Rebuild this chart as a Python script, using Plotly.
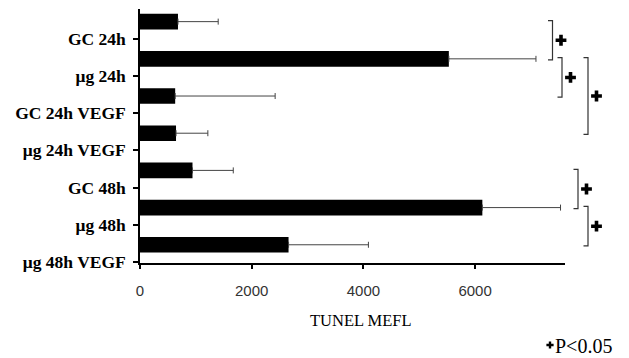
import plotly.graph_objects as go

categories = ["GC 24h", "μg 24h", "GC 24h VEGF", "μg 24h VEGF", "GC 48h", "μg 48h", "μg 48h VEGF"]
values = [680, 5530, 630, 645, 940, 6130, 2660]
errors = [720, 1560, 1790, 570, 730, 1400, 1430]
x_ticks = [0, 2000, 4000, 6000]
# significance brackets: (from category index, to category index, bracket column)
brackets = [(0, 1, 0), (1, 2, 1), (1, 3, 3), (4, 5, 2), (5, 6, 3)]

# the page body has an 8px margin, so the figure is drawn 8px in from the window corner
PAGE = 8
WIN_W, WIN_H = 629, 358
W, H = WIN_W - PAGE, WIN_H - PAGE
plot_left, plot_top, plot_w, plot_h = 140, 9, 425, 254  # in window pixels
plot_bottom = plot_top + plot_h

y_range = [6.03, -0.8]
bar_w = 0.42
bar_off = -0.67  # bars sit just above their tick label
centre_shift = bar_off + bar_w / 2


def xpx_to_paper(px):
    return (px - PAGE) / W


def ypx_to_paper(py):
    return (WIN_H - py) / H


def cat_to_ypx(v):
    return plot_top + (v - y_range[1]) / (y_range[0] - y_range[1]) * plot_h


fig = go.Figure()
fig.add_trace(go.Bar(
    y=categories, x=values, orientation="h",
    width=bar_w, offset=bar_off,
    marker=dict(color="black", line=dict(width=0)),
    error_x=dict(type="data", array=errors, arrayminus=[0] * len(errors),
                 symmetric=False, color="#444", thickness=1, width=3),
    showlegend=False,
))

col_px = [552.5, 562, 578, 588]  # window x of bracket columns
shapes = []
star_x, star_y = [], []
for a, b, c in brackets:
    x0 = xpx_to_paper(col_px[c])
    x1 = xpx_to_paper(col_px[c] - 4.5)
    ya = a + centre_shift - 0.03
    yb = b + centre_shift + 0.03
    shapes.append(dict(type="path", xref="paper", yref="y",
                       path=f"M {x1},{ya} L {x0},{ya} L {x0},{yb} L {x1},{yb}",
                       line=dict(color="#333", width=1.2)))
    star_x.append(col_px[c] + 8.5)
    star_y.append(cat_to_ypx((ya + yb) / 2))

# significance markers drawn on a full-window overlay measured in window pixels
fig.add_trace(go.Scatter(
    x=star_x, y=star_y, xaxis="x2", yaxis="y2", mode="markers",
    marker=dict(symbol="cross", size=9, color="black", line=dict(width=0)),
    showlegend=False, hoverinfo="skip",
))
fig.add_trace(go.Scatter(
    x=[550], y=[345], xaxis="x2", yaxis="y2", mode="markers",
    marker=dict(symbol="cross", size=6, color="black", line=dict(width=0)),
    showlegend=False, hoverinfo="skip",
))

annotations = [
    dict(xref="paper", yref="paper", x=xpx_to_paper(361), y=ypx_to_paper(320),
         text="TUNEL MEFL", showarrow=False, xanchor="center", yanchor="middle",
         font=dict(family="Liberation Serif", size=16.5, color="black")),
    dict(xref="paper", yref="paper", x=xpx_to_paper(554), y=ypx_to_paper(358),
         text="P<0.05", showarrow=False, xanchor="left", yanchor="bottom", borderpad=0,
         font=dict(family="Liberation Serif", size=20, color="black")),
]

fig.update_layout(
    width=W, height=H,
    margin=dict(l=0, r=0, t=0, b=0, pad=0),
    paper_bgcolor="white", plot_bgcolor="rgba(0,0,0,0)",
    shapes=shapes, annotations=annotations,
    xaxis=dict(domain=[xpx_to_paper(plot_left), xpx_to_paper(plot_left + plot_w)],
               range=[0, 7610], tickvals=x_ticks, showgrid=False, zeroline=False,
               showline=True, linecolor="black", linewidth=1.5,
               ticks="outside", ticklen=4, tickwidth=2, tickcolor="black",
               ticklabelstandoff=9, automargin=False,
               tickfont=dict(family="Liberation Sans", size=15, color="#333")),
    yaxis=dict(domain=[ypx_to_paper(plot_bottom), ypx_to_paper(plot_top)],
               type="category", range=y_range, showgrid=False, zeroline=False,
               showline=True, linecolor="black", linewidth=1.5,
               ticks="outside", ticklen=5, tickwidth=2, tickcolor="black",
               ticklabelstandoff=4, automargin=False,
               tickfont=dict(family="Liberation Serif", size=17.5, color="black",
                             weight="bold")),
    xaxis2=dict(domain=[0, 1], anchor="y2", range=[PAGE, WIN_W], visible=False,
                fixedrange=True),
    yaxis2=dict(domain=[0, 1], anchor="x2", range=[WIN_H, PAGE], visible=False,
                fixedrange=True),
)

fig.write_html("out.html")
